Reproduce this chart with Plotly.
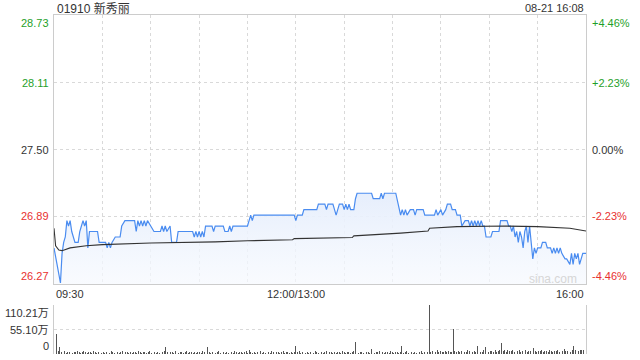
import plotly.graph_objects as go

stock_title = "01910 新秀丽"
timestamp = "08-21 16:08"
watermark = "sina.com"

price_ticks = [26.27, 26.89, 27.50, 28.11, 28.73]
price_tick_labels = ["26.27", "26.89", "27.50", "28.11", "28.73"]
pct_tick_labels = ["-4.46%", "-2.23%", "0.00%", "+2.23%", "+4.46%"]
tick_colors = ["#e8312f", "#e8312f", "#333333", "#1f9f2a", "#1f9f2a"]

time_labels = ["09:30", "12:00/13:00", "16:00"]
time_label_minute = [0, 150, 330]

vol_ticks = [0, 55.10, 110.21]
vol_tick_labels = ["0", "55.10万", "110.21万"]

# session minute (0 = 09:30, 150 = 12:00/13:00, 330 = 16:00) and price
price_minute = [0, 2, 4, 5, 6, 7, 8, 9, 10, 11, 12, 13, 15, 16, 17, 18, 19, 20, 21, 22,
                27, 28, 32, 33, 34, 35, 36, 38, 41, 42, 44, 50, 51, 52, 53, 54, 55, 56, 57, 58,
                60, 62, 66, 67, 68, 69, 70, 72, 73, 76, 77, 86, 87, 88, 89, 90, 91, 92, 93, 94,
                98, 99, 100, 105, 106, 108, 109, 110, 111, 120, 121, 122, 123, 124, 149, 150, 151, 154, 155, 163,
                164, 168, 169, 170, 173, 174, 175, 176, 177, 179, 180, 181, 182, 183, 184, 186, 187, 188, 197, 198,
                202, 203, 204, 205, 212, 215, 216, 217, 218, 219, 221, 223, 224, 225, 229, 230, 236, 237, 238, 240,
                241, 243, 244, 246, 247, 249, 250, 252, 253, 255, 257, 258, 259, 260, 261, 262, 263, 264, 265, 266,
                267, 268, 271, 272, 276, 277, 281, 282, 283, 284, 285, 286, 287, 288, 289, 290, 291, 292, 293, 294,
                295, 297, 298, 299, 300, 302, 303, 305, 306, 308, 309, 310, 311, 312, 313, 314, 315, 317, 318, 320,
                321, 322, 323, 324, 325, 326, 328, 330]
price_value = [26.60, 26.45, 26.28, 26.55, 26.65, 26.70, 26.85, 26.80, 26.85, 26.75, 26.70, 26.65, 26.65, 26.75, 26.80, 26.85, 26.80, 26.85, 26.60, 26.75,
               26.75, 26.65, 26.65, 26.60, 26.65, 26.60, 26.65, 26.70, 26.70, 26.80, 26.85, 26.85, 26.75, 26.85, 26.80, 26.85, 26.80, 26.85, 26.80, 26.85,
               26.80, 26.75, 26.75, 26.80, 26.75, 26.80, 26.75, 26.80, 26.65, 26.65, 26.75, 26.75, 26.70, 26.75, 26.70, 26.75, 26.70, 26.75, 26.70, 26.80,
               26.80, 26.75, 26.80, 26.80, 26.75, 26.75, 26.80, 26.75, 26.80, 26.80, 26.85, 26.90, 26.85, 26.90, 26.90, 26.85, 26.90, 26.90, 26.95, 26.95,
               27.00, 27.00, 26.95, 27.00, 27.00, 26.95, 26.90, 26.95, 27.00, 27.00, 26.95, 27.00, 26.95, 27.00, 26.95, 26.95, 27.05, 27.10, 27.10, 27.05,
               27.05, 27.10, 27.05, 27.10, 27.10, 26.90, 26.95, 26.90, 26.95, 26.90, 26.95, 26.95, 26.90, 26.95, 26.95, 26.90, 26.90, 26.95, 26.90, 26.95,
               26.90, 26.95, 27.00, 27.00, 26.95, 26.95, 26.90, 26.90, 26.80, 26.85, 26.85, 26.80, 26.85, 26.80, 26.85, 26.80, 26.85, 26.80, 26.85, 26.80,
               26.80, 26.70, 26.70, 26.75, 26.75, 26.85, 26.85, 26.80, 26.80, 26.75, 26.80, 26.70, 26.75, 26.65, 26.75, 26.70, 26.60, 26.75, 26.80, 26.65,
               26.80, 26.50, 26.60, 26.55, 26.60, 26.60, 26.65, 26.65, 26.60, 26.60, 26.55, 26.60, 26.55, 26.60, 26.55, 26.60, 26.55, 26.50, 26.50, 26.45,
               26.55, 26.45, 26.55, 26.50, 26.55, 26.45, 26.55, 26.55]

avg_minute = [0, 1, 3, 5, 10, 20, 30, 60, 100, 119, 120, 148, 149, 185, 186, 215, 232, 233, 250, 280, 300, 320, 330]
avg_value = [26.78, 26.62, 26.58, 26.575, 26.60, 26.62, 26.63, 26.645, 26.655, 26.66, 26.665, 26.675, 26.685, 26.695, 26.71,
             26.735, 26.755, 26.78, 26.795, 26.80, 26.795, 26.78, 26.755]

# per-minute volume, in 万 shares
volume_wan = [
    48, 45, 6, 16, 5, 4, 7, 3, 5, 4, 6, 3, 4, 5, 7, 4, 3, 5, 6, 4, 3, 4, 5, 3, 6, 4, 3, 5, 4, 3,
    4, 3, 5, 4, 3, 6, 4, 3, 4, 5, 3, 4, 6, 3, 4, 5, 3, 4, 3, 5, 4, 3, 6, 4, 3, 4, 5, 3, 4, 6,
    3, 4, 5, 3, 4, 3, 5, 4, 6, 15, 4, 3, 5, 4, 3, 6, 4, 3, 4, 5, 3, 4, 6, 3, 4, 5, 3, 4, 3, 5,
    4, 3, 6, 4, 3, 15, 4, 3, 4, 5, 3, 4, 6, 3, 4, 5, 3, 4, 3, 5, 4, 3, 6, 4, 3, 4, 5, 3, 4, 6,
    3, 9, 5, 3, 4, 3, 5, 4, 6, 3, 4, 3, 5, 4, 3, 6, 4, 3, 4, 5, 3, 4, 6, 3, 4, 5, 3, 4, 3, 5,
    18, 4, 6, 3, 4, 5, 3, 4, 3, 5, 4, 3, 6, 4, 3, 4, 5, 3, 4, 6, 3, 4, 5, 3, 4, 3, 5, 4, 3, 6,
    4, 3, 4, 5, 3, 4, 6, 27, 4, 3, 5, 4, 3, 6, 4, 5, 3, 11, 4, 3, 5, 4, 6, 3, 4, 3, 5, 4, 3, 6,
    4, 3, 4, 5, 3, 4, 18, 3, 4, 6, 3, 4, 5, 3, 4, 3, 5, 4, 6, 3, 4, 3, 5, 110.21, 4, 6, 5, 4, 8, 5,
    6, 5, 4, 7, 5, 6, 4, 5, 56.5, 6, 4, 7, 5, 6, 11, 5, 4, 8, 6, 5, 4, 7, 5, 18, 6, 5, 4, 8, 15, 6,
    5, 7, 6, 4, 8, 5, 6, 9, 25.7, 6, 8, 5, 9, 7, 6, 10, 5, 8, 6, 9, 5, 7, 6, 8, 5, 6, 7, 9, 13, 6,
    5, 7, 6, 8, 5, 6, 7, 5, 8, 6, 5, 7, 6, 9, 5, 8, 6, 12, 7, 6, 8, 5, 9, 17, 8, 17, 6, 10, 9, 8, 48,
]
volume_minute = list(range(len(volume_wan)))

FONT = "Liberation Sans, Arial, Noto Sans CJK SC, sans-serif"
GRID = "#d9d9d9"
BORDER = "#cccccc"

fig = go.Figure()

fig.add_trace(go.Scatter(
    x=price_minute, y=price_value, mode="lines",
    line=dict(color="#4a8cf0", width=1.2),
    fill="tozeroy",
    fillgradient=dict(type="vertical", start=26.27, stop=27.10,
                      colorscale=[[0, "rgba(246,249,254,0.7)"], [1, "rgba(230,238,252,1)"]]),
    xaxis="x", yaxis="y", hoverinfo="skip",
))
fig.add_trace(go.Scatter(
    x=avg_minute, y=avg_value, mode="lines",
    line=dict(color="#333333", width=1.1),
    xaxis="x", yaxis="y", hoverinfo="skip",
))
fig.add_trace(go.Bar(
    x=volume_minute, y=volume_wan, width=0.55,
    marker=dict(color="#555555", line=dict(width=0)),
    xaxis="x2", yaxis="y2", hoverinfo="skip",
))

H_TOP, H_BOT = 15, 6
PLOT_H = 360 - H_TOP - H_BOT
def py(pix):
    return (360 - H_BOT - pix) / PLOT_H

main_dom = [py(284), 1.0]
vol_dom = [0.0, py(305)]

annotations = []
for v, lab, pl, c in zip(price_ticks, price_tick_labels, pct_tick_labels, tick_colors):
    if v == price_ticks[-1]:
        ya = "top"
    elif v == price_ticks[0]:
        ya = "bottom"
    else:
        ya = "middle"
    annotations.append(dict(xref="paper", yref="y", x=0, y=v, text=lab, showarrow=False,
                            xanchor="right", yanchor=ya, xshift=-3,
                            font=dict(size=11, color=c, family=FONT)))
    annotations.append(dict(xref="paper", yref="y", x=1, y=v, text=pl, showarrow=False,
                            xanchor="left", yanchor=ya, xshift=4,
                            font=dict(size=11, color=c, family=FONT)))

for v, lab in zip(vol_ticks, vol_tick_labels):
    if v == vol_ticks[-1]:
        ya = "top"
    elif v == vol_ticks[0]:
        ya = "bottom"
    else:
        ya = "middle"
    annotations.append(dict(xref="paper", yref="y2", x=0, y=v, text=lab, showarrow=False,
                            xanchor="right", yanchor=ya, xshift=-3,
                            font=dict(size=11, color="#333333", family=FONT)))

for m, lab in zip(time_label_minute, time_labels):
    xa = "left" if m == time_label_minute[0] else ("right" if m == time_label_minute[-1] else "center")
    annotations.append(dict(xref="x", yref="paper", x=m, y=py(294), text=lab, showarrow=False,
                            xanchor=xa, yanchor="middle",
                            font=dict(size=11, color="#333333", family=FONT)))

annotations.append(dict(xref="paper", yref="paper", x=0, y=py(8), text=stock_title, showarrow=False,
                        xanchor="left", yanchor="middle", xshift=1,
                        font=dict(size=12, color="#333333", family=FONT)))
annotations.append(dict(xref="paper", yref="paper", x=1, y=py(8), text=timestamp, showarrow=False,
                        xanchor="right", yanchor="middle",
                        font=dict(size=11, color="#333333", family=FONT)))
annotations.append(dict(xref="paper", yref="paper", x=(553 - 54.5) / 531.5, y=py(279), text=watermark,
                        showarrow=False, xanchor="center", yanchor="middle",
                        font=dict(size=12, color="#d6d6d6", family=FONT)))

fig.update_layout(
    width=640, height=360,
    margin=dict(l=54, r=54, t=H_TOP, b=H_BOT),
    paper_bgcolor="white", plot_bgcolor="white",
    showlegend=False, bargap=0,
    annotations=annotations,
    xaxis=dict(domain=[0, 1], anchor="y", range=[0, 330], tickvals=list(range(0, 331, 30)),
               showticklabels=False, ticks="", showgrid=True, gridcolor=GRID, griddash="dot",
               gridwidth=1, zeroline=False, showline=True, mirror=True, linecolor=BORDER, linewidth=1),
    yaxis=dict(domain=main_dom, anchor="x", range=[26.27, 28.73], tickvals=price_ticks,
               showticklabels=False, ticks="", showgrid=True, gridcolor=GRID, griddash="dot",
               zeroline=False, showline=True, mirror=True, linecolor=BORDER, linewidth=1),
    xaxis2=dict(domain=[0, 1], anchor="y2", range=[-0.6, 330.6], showticklabels=False, ticks="",
                showgrid=False, zeroline=False, showline=False),
    yaxis2=dict(domain=vol_dom, anchor="x2", range=[0, 110.21], tickvals=[55.10, 110.21],
                showticklabels=False, ticks="", showgrid=True, gridcolor=GRID, griddash="dot",
                zeroline=False, showline=True, mirror=True, linecolor=BORDER, linewidth=1),
)

fig.write_html("out.html", config={"displayModeBar": False, "staticPlot": True},
               post_script="document.body.style.margin='0';document.body.style.overflow='hidden';")
